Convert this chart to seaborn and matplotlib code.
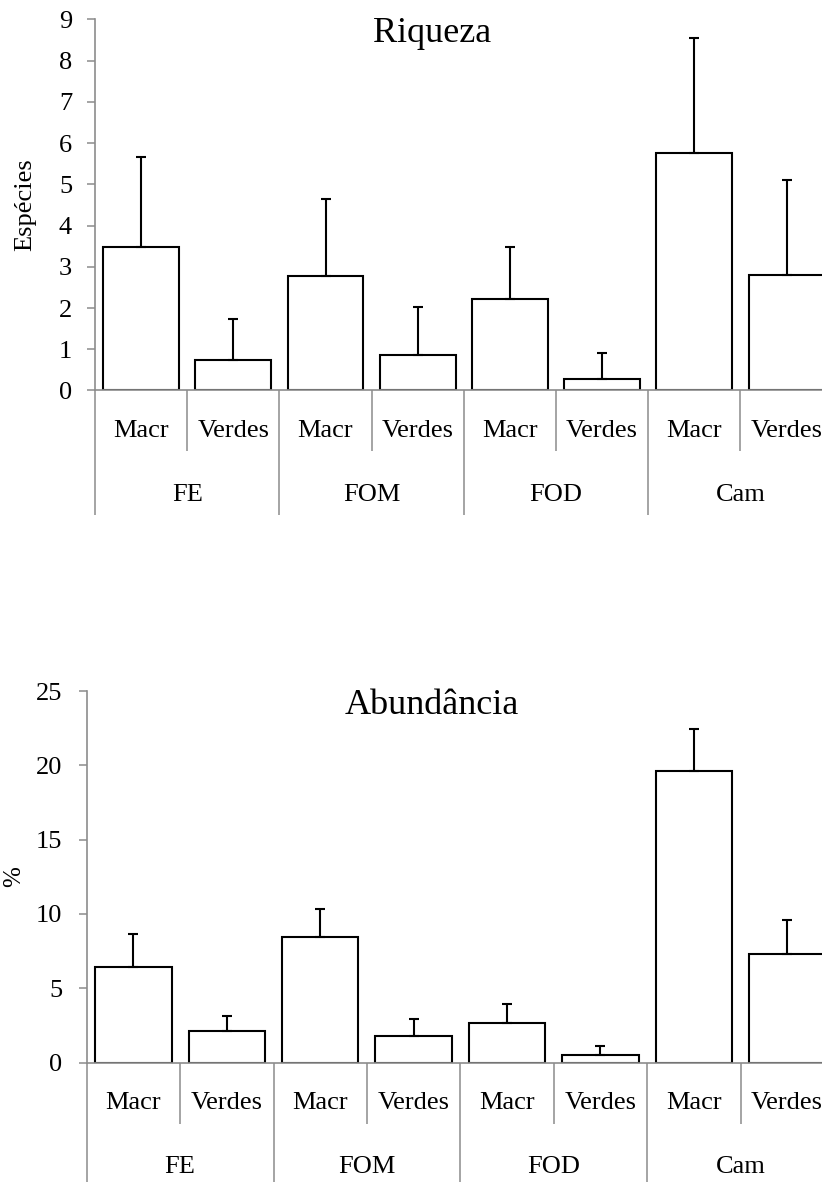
import numpy as np
import pandas as pd
import matplotlib
matplotlib.use("Agg")
import matplotlib.pyplot as plt
import seaborn as sns

# ---- data ----
groups = ["FE", "FOM", "FOD", "Cam"]
types = ["Macr", "Verdes"]
riqueza_mean = [3.48, 0.75, 2.77, 0.87, 2.21, 0.28, 5.75, 2.80]
riqueza_err = [2.17, 0.99, 1.88, 1.16, 1.27, 0.64, 2.79, 2.30]
abund_mean = [6.44, 2.13, 8.46, 1.77, 2.69, 0.51, 19.64, 7.29]
abund_err = [2.18, 0.99, 1.88, 1.15, 1.26, 0.61, 2.78, 2.31]
riqueza_ticks = [0, 1, 2, 3, 4, 5, 6, 7, 8, 9]
abund_ticks = [0, 5, 10, 15, 20, 25]

sns.set_style("white")
plt.rcParams["font.family"] = ["Liberation Serif", "DejaVu Serif"]
plt.rcParams["text.color"] = "black"
plt.rcParams["axes.labelcolor"] = "black"
plt.rcParams["xtick.labelcolor"] = "black"
plt.rcParams["ytick.labelcolor"] = "black"

GRAY = "#8c8c8c"
W, H = 822, 1182
fig = plt.figure(figsize=(W / 100, H / 100), dpi=100)

labels = [f"{g} {t}" for g in groups for t in types]
FS = 19


def panel(rect, means, errs, ticks, ylabel, ylabel_size, title, title_base_y,
          pad):
    ax = fig.add_axes(rect)
    df = pd.DataFrame({"cat": labels, "val": means})
    sns.barplot(data=df, x="cat", y="val", order=labels, ax=ax, width=0.82,
                color="white", edgecolor="black", linewidth=1.5, errorbar=None,
                saturation=1)
    pos = np.arange(len(labels))
    ax.errorbar(pos, means, yerr=[np.zeros(len(errs)), errs], fmt="none",
                ecolor="black", elinewidth=1.5, capsize=3.4, capthick=1.5,
                zorder=3)
    ax.set_xlim(-0.5, len(labels) - 0.5)
    ax.set_ylim(ticks[0], ticks[-1])
    ax.set_yticks(ticks)
    ax.set_yticklabels([str(t) for t in ticks])
    for s in ["top", "right"]:
        ax.spines[s].set_visible(False)
    for s in ["left", "bottom"]:
        ax.spines[s].set_color(GRAY)
        ax.spines[s].set_linewidth(1.2)
    ax.tick_params(axis="y", direction="out", length=5.5, width=1.1,
                   color=GRAY, labelcolor="black", labelsize=FS, pad=pad,
                   left=True)
    # two-level category axis: group boundaries (major), inner split (minor)
    major = np.arange(-0.5, len(labels), 2)
    minor = np.arange(0.5, len(labels), 2)
    ax.set_xticks(major)
    ax.set_xticklabels([""] * len(major))
    ax.set_xticks(minor, minor=True)
    ax.tick_params(axis="x", which="major", direction="out", length=90,
                   width=1.1, color=GRAY, bottom=True)
    ax.tick_params(axis="x", which="minor", direction="out", length=44,
                   width=1.1, color=GRAY, bottom=True)
    ax.set_xlabel("")
    for i, lab in enumerate(labels):
        g, t = lab.split(" ")
        ax.annotate(t, xy=(i, 0), xycoords=("data", "axes fraction"),
                    xytext=(0, -29.5), textcoords="offset points",
                    ha="center", va="center", fontsize=FS, color="black")
    for j, g in enumerate(groups):
        ax.annotate(g, xy=(2 * j + 0.5, 0), xycoords=("data", "axes fraction"),
                    xytext=(0, -75), textcoords="offset points",
                    ha="center", va="center", fontsize=FS, color="black")
    ax.set_ylabel(ylabel, fontsize=ylabel_size, va="center", color="black")
    fig.text(432 / W, 1 - title_base_y / H, title, ha="center",
             va="baseline", fontsize=26, color="black")
    return ax


ax1 = panel([95 / W, 1 - 390.5 / H, 737.6 / W, 371.2 / H],
            riqueza_mean, riqueza_err, riqueza_ticks, "Espécies", 19,
            "Riqueza", 42, 11)
ax1.yaxis.set_label_coords(-(95 - 25) / 737.6, 0.5)

ax2 = panel([86.7 / W, 1 - 1062.5 / H, 747.2 / W, 371.5 / H],
            abund_mean, abund_err, abund_ticks, "%", 18,
            "Abundância", 714, 12)
ax2.yaxis.set_label_coords(-(86.7 - 14) / 747.2, 0.5)

fig.savefig("out.png", dpi=100, facecolor="white")
